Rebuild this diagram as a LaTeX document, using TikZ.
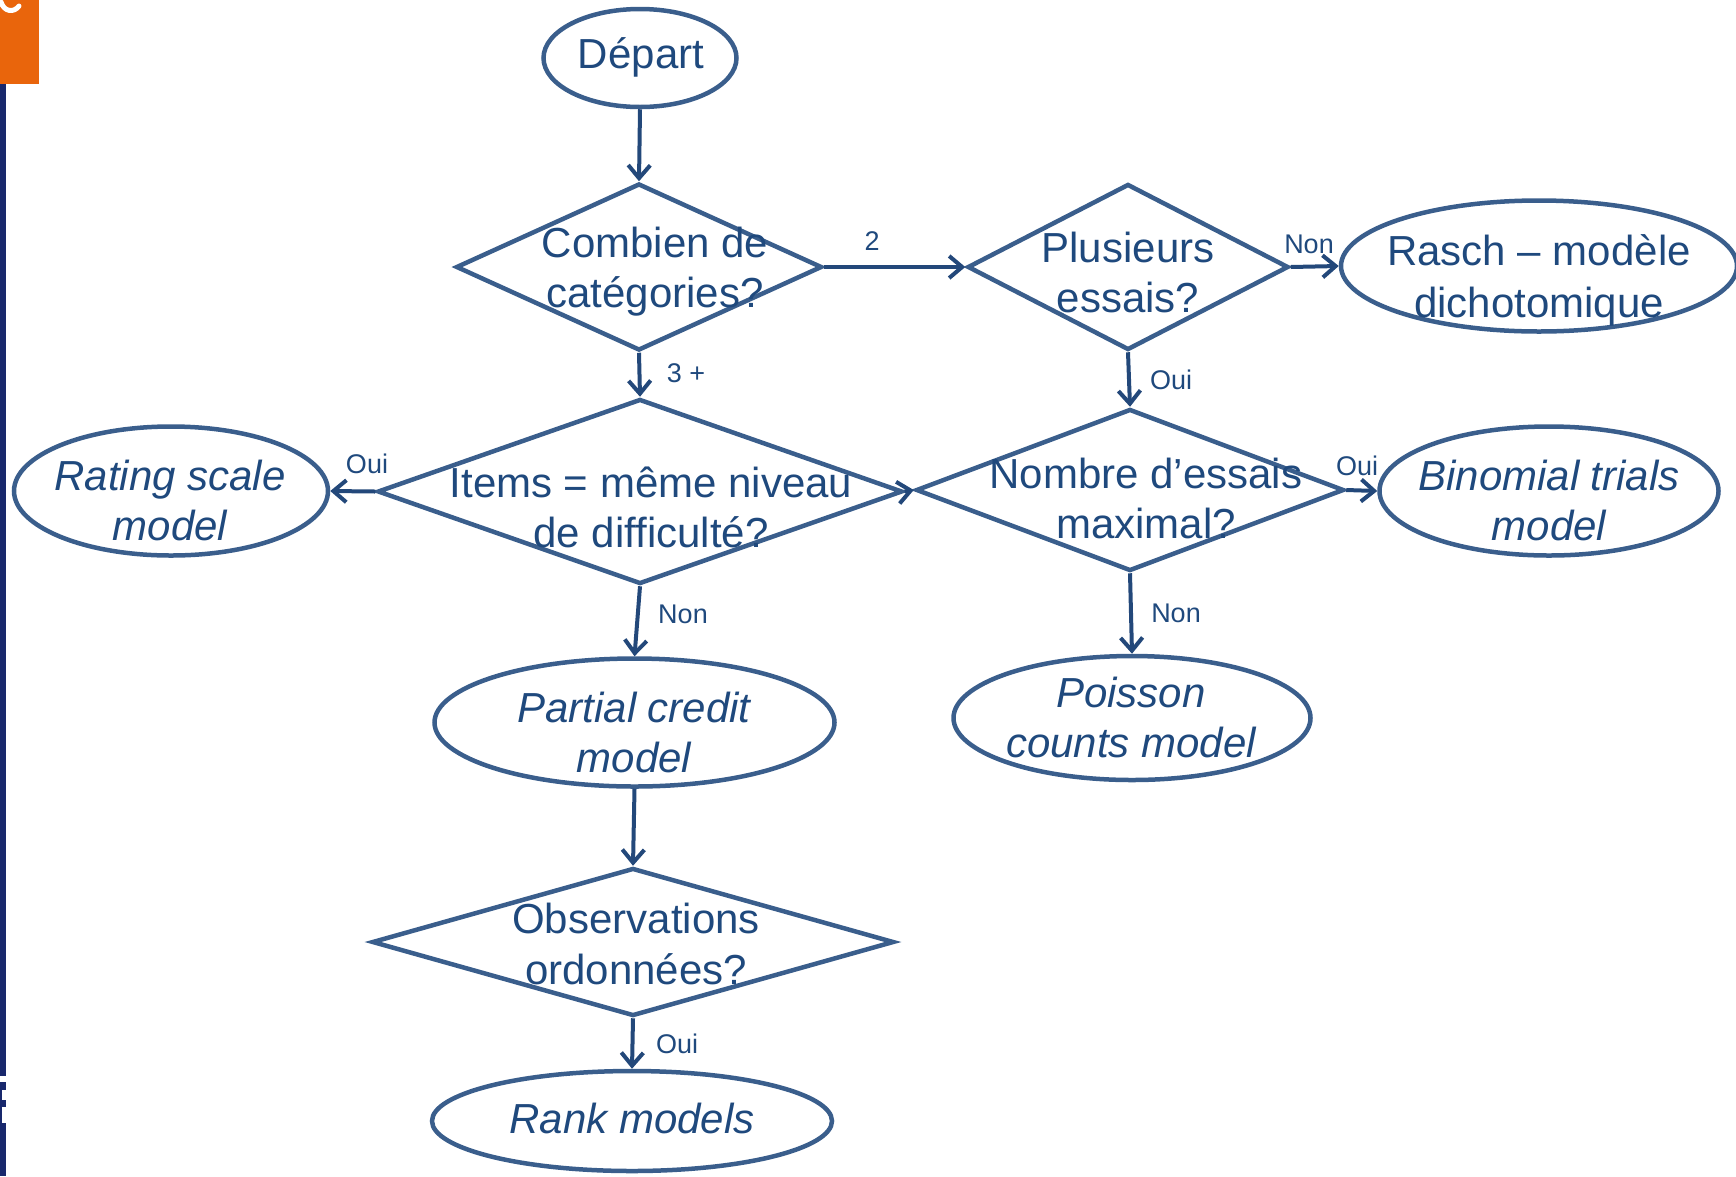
\documentclass[tikz,border=0pt]{standalone}
\usepackage{fontspec}
\setmainfont{Liberation Sans}
\usetikzlibrary{shapes.geometric,arrows.meta}
\definecolor{outl}{RGB}{58,94,140}
\definecolor{conn}{RGB}{35,72,122}
\definecolor{txtc}{RGB}{31,73,125}
\definecolor{orangebar}{RGB}{233,101,12}
\definecolor{navybar}{RGB}{24,40,108}
\begin{document}
\begin{tikzpicture}[x=1pt,y=-1pt,
  decision/.style={diamond, draw=outl, line width=4.5pt, inner sep=0pt},
  terminal/.style={ellipse, draw=outl, line width=4.5pt, inner sep=0pt},
  bigtext/.style={text=txtc, font=\fontsize{42}{50}\selectfont, align=center, anchor=base, inner sep=0pt},
  modeltext/.style={bigtext, font=\fontsize{42}{50}\selectfont\itshape},
  small/.style={text=txtc, font=\fontsize{27}{32}\selectfont, anchor=base, inner sep=0pt},
  flow/.style={draw=conn, line width=4pt, -{Straight Barb[length=13pt,width=22pt]}},
]
\useasboundingbox (0,0) rectangle (1736,1176);
% left edge decoration
\fill[orangebar] (0,0) rectangle (39,84);
\draw[white, line width=5pt, line cap=round] (1,2) .. controls (4,12) and (14,13) .. (19,6);
\fill[navybar] (0,84) rectangle (6,1176);
\fill[white] (0,1076) rectangle (6,1082);
\fill[white] (2,1090) rectangle (6,1100);
\fill[white] (2,1107) rectangle (6,1123);

% shapes
\node[terminal, minimum width=193, minimum height=98] (dep) at (640,58) {};
\node[decision, minimum width=366, minimum height=167] (d1) at (639,267) {};
\node[decision, minimum width=321, minimum height=166] (d2) at (1128,267) {};
\node[terminal, minimum width=396, minimum height=131] (rasch) at (1539,266) {};
\node[decision, minimum width=525, minimum height=185] (d3) at (640,491.5) {};
\node[terminal, minimum width=314, minimum height=129] (rating) at (171,491) {};
\node[decision, minimum width=428, minimum height=162] (d4) at (1130,490) {};
\node[terminal, minimum width=339, minimum height=129] (binom) at (1549,491) {};
\node[terminal, minimum width=400, minimum height=128] (partial) at (634.5,722.5) {};
\node[terminal, minimum width=357, minimum height=124] (poisson) at (1132,718) {};
\node[decision, minimum width=522, minimum height=148] (obs) at (633,942) {};
\node[terminal, minimum width=400, minimum height=100] (rank) at (632,1121) {};

% texts (multi-line nodes: base = baseline of last line)
\node[bigtext] (dep-t) at (641,68) {Départ};
\node[bigtext] (d1-t) at (655,307) {Combien de\\catégories?};
\node[bigtext] (d2-t) at (1128,312) {Plusieurs\\essais?};
\node[bigtext, font=\fontsize{42}{52}\selectfont] (rasch-t) at (1539,317) {Rasch – modèle\\dichotomique};
\node[bigtext] (d3-t) at (651,547) {Items = même niveau\\de difficulté?};
\node[modeltext] (rating-t) at (170,540) {Rating scale\\model};
\node[bigtext] (d4-t) at (1146,538) {Nombre d’essais\\maximal?};
\node[modeltext] (binom-t) at (1549,540) {Binomial trials\\model};
\node[modeltext] (partial-t) at (634,772) {Partial credit\\model};
\node[modeltext] (poisson-t) at (1131,757) {Poisson\\counts model};
\node[bigtext, font=\fontsize{42}{51}\selectfont] (obs-t) at (636,984) {Observations\\ordonnées?};
\node[modeltext] (rank-t) at (632,1133) {Rank models};

% connectors
\draw[flow] (dep.south) -- (d1.north);
\draw[flow] (d1.east) -- (d2.west);
\draw[flow] (d2.east) -- (rasch.west);
\draw[flow] (d1.south) -- (d3.north);
\draw[flow] (d2.south) -- (d4.north);
\draw[flow] (d3.west) -- (rating.east);
\draw[flow] (d3.east) -- (d4.west);
\draw[flow] (d4.east) -- (binom.west);
\draw[flow] (d3.south) -- (partial.north);
\draw[flow] (d4.south) -- (poisson.north);
\draw[flow] (partial.south) -- (obs.north);
\draw[flow] (obs.south) -- (rank.north);

% connector labels
\node[small] (l2) at (872,250) {2};
\node[small] (l3) at (686,382) {3 +};
\node[small] (lnon1) at (1309,253) {Non};
\node[small] (loui1) at (1171,389) {Oui};
\node[small] (loui2) at (367,473) {Oui};
\node[small] (loui3) at (1357,475) {Oui};
\node[small] (lnon2) at (683,623) {Non};
\node[small] (lnon3) at (1176,622) {Non};
\node[small] (loui4) at (677,1053) {Oui};
\end{tikzpicture}
\end{document}
